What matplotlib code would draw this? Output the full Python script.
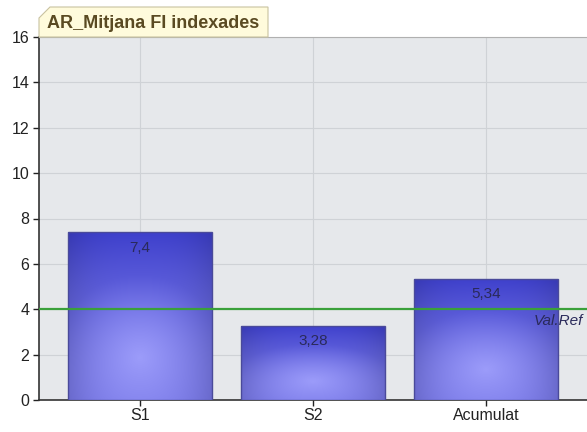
import numpy as np
import matplotlib
matplotlib.use("Agg")
import matplotlib.pyplot as plt
from matplotlib.patches import Rectangle, Polygon

plt.rcParams["font.family"] = ["Liberation Sans", "DejaVu Sans"]

categories = ["S1", "S2", "Acumulat"]
values = [7.4, 3.28, 5.34]
ref_value = 4.0
ref_label = "Val.Ref"
title = "AR_Mitjana FI indexades"
yticks = [0, 2, 4, 6, 8, 10, 12, 14, 16]

W, H = 587, 432
fig = plt.figure(figsize=(W / 100, H / 100), dpi=100)
fig.patch.set_facecolor("white")
ax = fig.add_axes([39 / W, 1 - 400 / H, 1 - 39 / W, (400 - 37) / H])
ax.set_facecolor("#e6e8eb")

x = np.arange(len(categories))
width = 0.83

# gradient image for bars
ny, nx = 200, 100
yy, xx = np.mgrid[0:1:ny * 1j, 0:1:nx * 1j]
top_c = np.array([0x3e, 0x40, 0xcc]) / 255
mid_c = np.array([0x78, 0x78, 0xe8]) / 255
hi_c = np.array([0x9c, 0x9c, 0xfa]) / 255
lin = np.clip(yy, 0, 1)[..., None]
base = mid_c * (1 - lin ** 1.8) + top_c * (lin ** 1.8)
r = np.sqrt(((xx - 0.5) / 0.6) ** 2 + ((yy - 0.25) / 0.5) ** 2)
glow = np.clip(1 - r, 0, 1)[..., None] ** 1.2
img = base * (1 - glow) + hi_c * glow
edge = np.clip(np.abs(xx - 0.5) * 2, 0, 1)[..., None] ** 3
img = img * (1 - 0.12 * edge)

for xi, v in zip(x, values):
    rect = Rectangle((xi - width / 2, 0), width, v, facecolor="none",
                     edgecolor="#4a4a9a", linewidth=1.0, zorder=4)
    ax.add_patch(rect)
    im = ax.imshow(img, extent=(xi - width / 2, xi + width / 2, 0, v),
                   origin="lower", aspect="auto", zorder=3, interpolation="bilinear")
    im.set_clip_path(rect)
    ax.text(xi, v - 0.38, f"{v:g}".replace(".", ","), ha="center", va="top",
            fontsize=11, color="#2a2a5a", zorder=6)

ax.axhline(ref_value, color="#3aa03a", linewidth=1.6, zorder=5)
ax.text(2.584 - 0.025, ref_value - 0.22, ref_label, ha="right", va="top",
        fontsize=11, style="italic", color="#2a2a5a", zorder=6)

ax.set_xlim(-0.584, 2.584)
ax.set_ylim(0, 16)
ax.set_yticks(yticks)
ax.set_xticks(x)
ax.set_xticklabels(categories)
ax.grid(True, color="#cfd2d6", linewidth=0.8, zorder=0)
ax.set_axisbelow(True)
ax.tick_params(axis="both", labelsize=11.5, colors="#222222", length=4, width=1)
ax.tick_params(axis="x", pad=2)
ax.tick_params(axis="y", pad=3)
for s in ["left", "bottom"]:
    ax.spines[s].set_color("#333333")
    ax.spines[s].set_linewidth(1.2)
ax.spines["top"].set_color("#b0b0b0")
ax.spines["top"].set_linewidth(0.8)
ax.spines["right"].set_visible(False)

# title tab
x0, x1, y0, y1, c = 39, 268, 37, 7, 11
pts = [(x0, H - y0), (x0, H - y1 - c), (x0 + c, H - y1), (x1, H - y1), (x1, H - y0)]
pts = [(px / W, py / H) for px, py in pts]
tab = Polygon(pts, closed=True, transform=fig.transFigure, facecolor="#fffbdc",
              edgecolor="#c9c2a0", linewidth=0.8, zorder=10)
fig.patches.append(tab)
fig.text((x0 + 8) / W, 1 - 23 / H, title, ha="left", va="center",
         fontsize=13, fontweight="bold", color="#5a4a22", zorder=11)

fig.savefig("out.png", dpi=100)
